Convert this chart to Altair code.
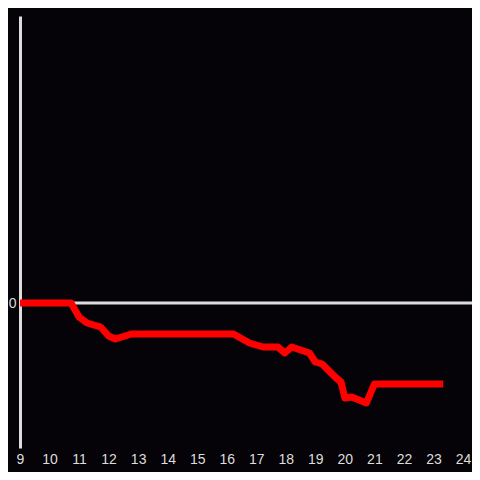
import altair as alt
import pandas as pd

hours = [9.0, 10.73, 11.0, 11.27, 11.73, 12.0, 12.23, 12.77, 16.23, 16.77, 17.23, 17.73,
         17.97, 18.2, 18.4, 18.8, 19.0, 19.23, 19.67, 19.87, 20.0, 20.23, 20.73, 21.0, 23.33]
values = [0, 0, -1.4, -2.0, -2.4, -3.3, -3.6, -3.1, -3.1, -4.0, -4.4, -4.4,
          -5.0, -4.4, -4.6, -5.0, -5.9, -6.1, -7.4, -7.9, -9.5, -9.4, -10.0, -8.1, -8.1]
x_ticks = list(range(9, 25))
y_domain = [-14.5, 28.7]

df = pd.DataFrame({"h": hours, "v": values})
AX = "#dddddd"
BG = "#050307"

xs = alt.X("h:Q", scale=alt.Scale(domain=[9, 24], nice=False, zero=False),
           axis=alt.Axis(values=x_ticks, title=None, grid=False, ticks=False, tickSize=0,
                         domain=False, labelColor=AX, labelFontSize=14, labelPadding=4,
                         labelFont="Liberation Sans", labelFlush=False))
ys = alt.Y("v:Q", scale=alt.Scale(domain=y_domain, nice=False, zero=False),
           axis=alt.Axis(values=[0], title=None, grid=False, ticks=False, tickSize=0,
                         domain=True, domainColor=AX, domainWidth=3, labelColor=AX,
                         labelFontSize=14, labelPadding=4, labelFont="Liberation Sans"))

zero = alt.Chart(pd.DataFrame({"v": [0]})).mark_rule(color=AX, strokeWidth=3).encode(
    y=alt.Y("v:Q", scale=alt.Scale(domain=y_domain, nice=False, zero=False)),
    x=alt.value(0), x2=alt.value(452))

line = alt.Chart(df).mark_line(color="#ff0000", strokeWidth=7, strokeJoin="round").encode(
    x=xs, y=ys)

chart = alt.layer(zero, line).properties(
    width=443, height=432,
    autosize=alt.AutoSizeParams(type="none"),
    padding={"left": 12, "top": 8, "right": 9, "bottom": 24},
    background=BG,
).configure_view(stroke=None)

chart.save("out.html", embed_options={"renderer": "svg", "actions": False})
